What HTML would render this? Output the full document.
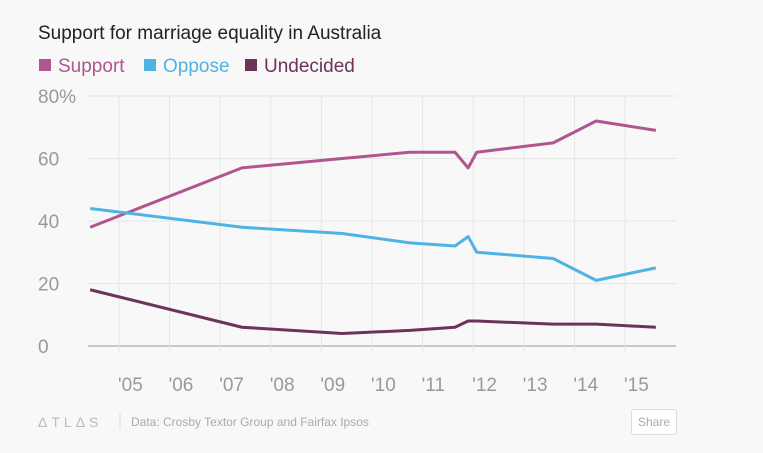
<!DOCTYPE html>
<html><head><meta charset="utf-8"><style>
body{margin:0;background:#f8f8f8;font-family:"Liberation Sans",sans-serif;}
svg{display:block}
</style></head><body>
<svg width="763" height="453">
<text x="38" y="39" font-size="19" fill="#222">Support for marriage equality in Australia</text>
<g>
<rect x="39" y="59" width="12" height="12" fill="#b0558f"/>
<text x="58" y="72" font-size="19" fill="#b0558f">Support</text>
<rect x="144" y="59" width="12" height="12" fill="#4fb3e5"/>
<text x="163" y="72" font-size="19" fill="#4fb3e5">Oppose</text>
<rect x="245" y="59" width="12" height="12" fill="#6b3458"/>
<text x="264" y="72" font-size="19" fill="#6b3458">Undecided</text>
</g>
<g id="grid"></g><g id="axes"></g><g id="lines"></g>
<g>
<text x="38" y="427" font-size="14" fill="#bbb" letter-spacing="4">ΔTLΔS</text>
<line x1="120" y1="413" x2="120" y2="430" stroke="#ddd"/>
<text x="131" y="426" font-size="12" fill="#aaa">Data: Crosby Textor Group and Fairfax Ipsos</text>
<rect x="631.5" y="409.5" width="45" height="25" rx="2" fill="#fff" stroke="#ddd"/>
<text x="654" y="426" font-size="12" fill="#aaa" text-anchor="middle">Share</text>
</g>
</svg>
<script>
const years=[2004.43,2007.43,2009.41,2010.75,2011.64,2011.9,2012.07,2013.58,2014.43,2015.61];
const support=[38,57,60,62,62,57,62,65,72,69];
const oppose=[44,38,36,33,32,35,30,28,21,25];
const undecided=[18,6,4,5,6,8,8,7,7,6];
const yTicks=[0,20,40,60,80];
const yTickLabels=["0","20","40","60","80%"];
const xTicks=[2005,2006,2007,2008,2009,2010,2011,2012,2013,2014,2015];
const xTickLabels=["'05","'06","'07","'08","'09","'10","'11","'12","'13","'14","'15"];
const NS="http://www.w3.org/2000/svg";
const x=v=>119+(v-2005)*50.6;
const y=v=>346-v*3.125;
function mk(t,a,p){const e=document.createElementNS(NS,t);for(const k in a)e.setAttribute(k,a[k]);p.appendChild(e);return e;}
const grid=document.getElementById('grid'),axes=document.getElementById('axes'),lines=document.getElementById('lines');
yTicks.forEach((t,i)=>{
 const l=mk('line',{x1:88,x2:676,y1:y(t),y2:y(t),stroke:t===0?'#999':'#e6e6e6','stroke-width':1},grid);
 
 
 const tx=mk('text',{x:38,y:y(t)+7,'font-size':19,fill:'#999'},axes);tx.textContent=yTickLabels[i];
 
 
});
xTicks.forEach((t,i)=>{
 const l=mk('line',{x1:x(t),x2:x(t),y1:96,y2:346,stroke:'#e6e6e6'},grid);
 
 
 const tk=mk('line',{x1:x(t),x2:x(t),y1:346,y2:352,stroke:'#e6e6e6'},grid);
 
 
 const tx=mk('text',{x:x(t)-1,y:391,'font-size':19,fill:'#999'},axes);tx.textContent=xTickLabels[i];
 
 
});
[[support,'#b0558f','support-line'],[oppose,'#4fb3e5','oppose-line'],[undecided,'#6b3458','undecided-line']].forEach(([s,c,n])=>{
 const p=mk('polyline',{points:s.map((v,i)=>x(years[i])+','+y(v)).join(' '),fill:'none',stroke:c,'stroke-width':3,'stroke-linejoin':'round'},lines);
 
 
});
</script>
</body></html>
